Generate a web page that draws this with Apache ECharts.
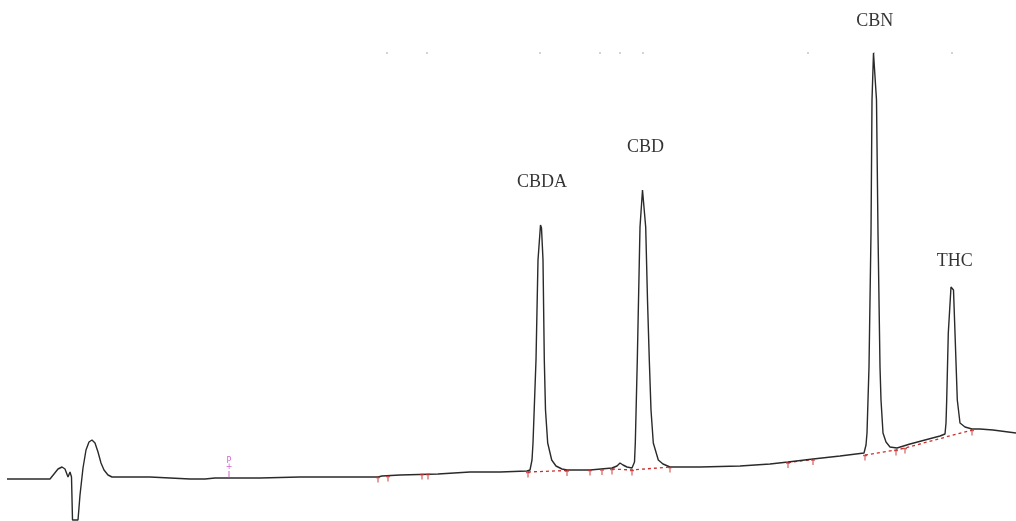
<!DOCTYPE html>
<html>
<head>
<meta charset="utf-8">
<script src="https://cdn.jsdelivr.net/npm/echarts@6/dist/echarts.min.js"></script>
<style>html,body{margin:0;padding:0;background:#fff}#c{width:1016px;height:521px}</style>
</head>
<body>
<div id="c"></div>
<script>
// retention time (min) vs detector signal (mAU)
const trace = [
[0.07,21],[0.50,21],[0.54,26],[0.58,31],[0.62,33],[0.65,31],[0.68,23],[0.70,28],[0.715,23],[0.725,-20],[0.78,-20],
[0.80,5],[0.83,32],[0.86,50],[0.89,58],[0.92,60],[0.95,57],[0.98,48],[1.01,37],[1.04,30],[1.08,25],[1.12,23],
[1.50,23],[1.70,22],[1.90,21],[2.05,21],[2.15,22],[2.60,22],[3.00,23],[3.40,23],[3.78,23],[3.82,24],[4.00,25],
[4.38,26],[4.40,27],[4.70,28],[5.00,28],[5.27,29],[5.30,30],[5.32,40],[5.33,57],[5.36,140],[5.38,240],[5.405,275],
[5.415,272],[5.43,240],[5.443,140],[5.455,90],[5.477,57],[5.517,40],[5.56,34],[5.62,31],[5.67,30],[5.90,30],
[6.12,32],[6.17,34],[6.20,37],[6.23,35],[6.27,33],[6.32,32],[6.345,38],[6.353,57],[6.373,140],[6.40,273],[6.425,310],
[6.435,308],[6.457,273],[6.475,200],[6.493,140],[6.51,90],[6.533,57],[6.583,40],[6.63,36],[6.70,33],[7.00,33],
[7.40,34],[7.70,36],[7.88,38],[8.13,41],[8.40,44],[8.64,47],[8.66,55],[8.67,67],[8.68,100],[8.69,133],[8.71,267],
[8.72,400],[8.735,447],[8.745,445],[8.765,400],[8.78,267],[8.80,133],[8.81,100],[8.83,67],[8.86,58],[8.90,53],
[8.97,52],[9.10,56],[9.25,60],[9.40,64],[9.45,66],[9.46,77],[9.467,100],[9.483,167],[9.51,213],[9.52,215],
[9.535,210],[9.55,167],[9.573,100],[9.60,77],[9.65,73],[9.72,71],[9.80,71],[9.93,70],[10.16,67]
];
const baselines = [
[5.28,28],[5.67,29.5],null,[6.12,31],[6.32,30],[6.70,33],null,[7.88,37.5],[8.13,40.5],null,
[8.65,45],[8.96,50],[9.05,52],[9.72,70]
];
const integrationMarks = [
[3.78,23],[3.88,24],[4.22,26],[4.28,26],[5.28,28],[5.67,29.5],[5.90,30],[6.02,30.5],[6.12,31],[6.32,30],
[6.70,33],[7.88,37.5],[8.13,40.5],[8.65,45],[8.96,50],[9.05,52],[9.72,70]
];
const topDots = [[3.87,447],[4.27,447],[5.40,447],[6.00,447],[6.20,447],[6.43,447],[8.08,447],[8.74,447],[9.52,447]];
const eventMark = [[2.29,22]];
const peakNames = ['CBDA','CBD','CBN','THC'];
const peakApex = [[5.41,275],[6.43,310],[8.74,447],[9.52,215]];

const labelOffsets = [[1,-43],[2.5,-43],[0.7,-32],[2.7,-24]];
const chart = echarts.init(document.getElementById('c'));
chart.setOption({
  animation: false,
  backgroundColor: '#fff',
  grid: {left: 0, right: 0, top: 0, bottom: 0},
  xAxis: {type: 'value', min: 0, max: 10.16, show: false},
  yAxis: {type: 'value', min: -21, max: 500, show: false},
  series: [
    {type: 'line', data: baselines, symbol: 'none', connectNulls: false, z: 2,
     lineStyle: {color: '#c83030', width: 1.3, type: [3, 3]}},
    {type: 'line', data: trace, symbol: 'none', z: 3,
     lineStyle: {color: '#2a2a2a', width: 1.4}},
    {type: 'scatter', data: integrationMarks, z: 4,
     symbol: 'path://M0,0L6,0M3,0L3,7', symbolSize: [4, 5], symbolOffset: [0, 3],
     itemStyle: {color: 'none', borderColor: '#c83030', borderWidth: 1.3}},
    {type: 'scatter', data: topDots, symbolSize: 2, z: 1,
     itemStyle: {color: '#a8c0a8'}},
    {type: 'scatter', data: eventMark, z: 5,
     symbol: 'rect', symbolSize: [1, 7], symbolOffset: [0, -3.5],
     itemStyle: {color: '#c040c0'},
     label: {show: true, position: 'top', distance: 1, formatter: 'P\n+',
       fontSize: 8, lineHeight: 6, color: '#c040c0', fontFamily: 'DejaVu Sans', align: 'center'}},
    {type: 'scatter', z: 6, symbolSize: 0,
     data: peakApex.map((p, i) => ({value: p, name: peakNames[i],
       label: {offset: labelOffsets[i]}})),
     label: {show: true, position: 'inside', formatter: '{b}', color: '#000',
       fontFamily: 'Liberation Serif', fontSize: 18, align: 'center', verticalAlign: 'middle'}}
  ]
});
</script>
</body>
</html>
